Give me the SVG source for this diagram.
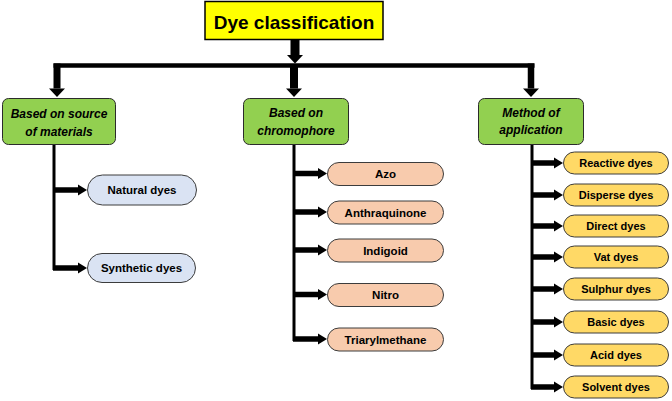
<svg xmlns="http://www.w3.org/2000/svg" width="672" height="401" viewBox="0 0 672 401">
<style>
.title{fill:#ffff00;stroke:#000;stroke-width:1.5}
.cat{fill:#92d050;stroke:#2b2b2b;stroke-width:1}
.pb{fill:#dae3f3;stroke:#3c3c3c;stroke-width:1}
.pp{fill:#f8cbad;stroke:#3c3c3c;stroke-width:1}
.py{fill:#ffd966;stroke:#3c3c3c;stroke-width:1}
text{font-family:"Liberation Sans",Arial,sans-serif;font-weight:bold;fill:#000;text-anchor:middle}
.tt{font-size:19px}
.ct{font-size:12px;font-style:italic}
.pt{font-size:11.5px}
.ry{font-size:11px}
.ln{stroke:#000;fill:none}
</style>
<defs>
<marker id="hv" markerUnits="userSpaceOnUse" orient="auto" refX="0" refY="0" markerWidth="10" markerHeight="18" overflow="visible"><path d="M0,-8 L8.5,0 L0,8 Z" fill="#000"/></marker>
<marker id="hh" markerUnits="userSpaceOnUse" orient="auto" refX="0" refY="0" markerWidth="10" markerHeight="12" overflow="visible"><path d="M0,-5.5 L9,0 L0,5.5 Z" fill="#000"/></marker>
</defs>
<g id="connectors">
<line class="ln" x1="295" y1="39" x2="295" y2="55" stroke-width="9" marker-end="url(#hv)"/>
<line class="ln" x1="53.5" y1="65.5" x2="534.5" y2="65.5" stroke-width="4.5"/>
<line class="ln" x1="57" y1="63.5" x2="57" y2="88.5" stroke-width="7" marker-end="url(#hv)"/>
<line class="ln" x1="294" y1="67" x2="294" y2="88.5" stroke-width="8" marker-end="url(#hv)"/>
<line class="ln" x1="531" y1="63.5" x2="531" y2="88.5" stroke-width="6.5" marker-end="url(#hv)"/>
<line class="ln" x1="54" y1="145" x2="54" y2="270" stroke-width="3"/>
<line class="ln" x1="53" y1="190" x2="78" y2="190" stroke-width="5.5" marker-end="url(#hh)"/>
<line class="ln" x1="53" y1="268" x2="78" y2="268" stroke-width="5.5" marker-end="url(#hh)"/>
<line class="ln" x1="294" y1="144" x2="294" y2="341" stroke-width="3"/>
<line class="ln" x1="293" y1="173.5" x2="318" y2="173.5" stroke-width="5.5" marker-end="url(#hh)"/>
<line class="ln" x1="293" y1="212" x2="318" y2="212" stroke-width="5.5" marker-end="url(#hh)"/>
<line class="ln" x1="293" y1="250" x2="318" y2="250" stroke-width="5.5" marker-end="url(#hh)"/>
<line class="ln" x1="293" y1="294.5" x2="318" y2="294.5" stroke-width="5.5" marker-end="url(#hh)"/>
<line class="ln" x1="293" y1="339" x2="318" y2="339" stroke-width="5.5" marker-end="url(#hh)"/>
<line class="ln" x1="532" y1="144" x2="532" y2="389" stroke-width="3"/>
<line class="ln" x1="531" y1="163" x2="554" y2="163" stroke-width="5.5" marker-end="url(#hh)"/>
<line class="ln" x1="531" y1="195" x2="554" y2="195" stroke-width="5.5" marker-end="url(#hh)"/>
<line class="ln" x1="531" y1="226" x2="554" y2="226" stroke-width="5.5" marker-end="url(#hh)"/>
<line class="ln" x1="531" y1="257" x2="554" y2="257" stroke-width="5.5" marker-end="url(#hh)"/>
<line class="ln" x1="531" y1="289" x2="554" y2="289" stroke-width="5.5" marker-end="url(#hh)"/>
<line class="ln" x1="531" y1="322" x2="554" y2="322" stroke-width="5.5" marker-end="url(#hh)"/>
<line class="ln" x1="531" y1="355" x2="554" y2="355" stroke-width="5.5" marker-end="url(#hh)"/>
<line class="ln" x1="531" y1="387" x2="554" y2="387" stroke-width="5.5" marker-end="url(#hh)"/>
</g>
<g id="title"><rect class="title" x="205" y="1.5" width="178" height="38"/><text class="tt" x="294" y="29">Dye classification</text></g>
<g id="source"><rect class="cat" x="2.5" y="98.5" width="113" height="46" rx="6"/><text class="ct" x="59" y="117.5">Based on source</text><text class="ct" x="59" y="135.5">of materials</text></g>
<g id="chromophore"><rect class="cat" x="243.5" y="98.5" width="105" height="46" rx="6"/><text class="ct" x="296" y="117">Based on</text><text class="ct" x="296" y="134.5">chromophore</text></g>
<g id="method"><rect class="cat" x="478.5" y="98.5" width="105" height="46" rx="6"/><text class="ct" x="531" y="116.5">Method of</text><text class="ct" x="531" y="133.5">application</text></g>
<g id="natural"><rect class="pb" x="87.5" y="175" width="109" height="30" rx="15"/><text class="pt" x="142" y="194">Natural dyes</text></g>
<g id="synthetic"><rect class="pb" x="87.5" y="253.5" width="108" height="29" rx="14.5"/><text class="pt" x="141.5" y="272">Synthetic dyes</text></g>
<g id="azo"><rect class="pp" x="327.5" y="162.5" width="116" height="23" rx="11.5"/><text class="pt" x="385.5" y="178">Azo</text></g>
<g id="anthraquinone"><rect class="pp" x="327.5" y="201" width="116" height="23" rx="11.5"/><text class="pt" x="385.5" y="216.5">Anthraquinone</text></g>
<g id="indigoid"><rect class="pp" x="327.5" y="239" width="116" height="23" rx="11.5"/><text class="pt" x="385.5" y="254.5">Indigoid</text></g>
<g id="nitro"><rect class="pp" x="327.5" y="283.5" width="116" height="23" rx="11.5"/><text class="pt" x="385.5" y="299">Nitro</text></g>
<g id="triarylmethane"><rect class="pp" x="327.5" y="328" width="116" height="23" rx="11.5"/><text class="pt" x="385.5" y="343.5">Triarylmethane</text></g>
<g id="reactive"><rect class="py" x="563.5" y="152" width="105" height="22" rx="11"/><text class="ry" x="616" y="167">Reactive dyes</text></g>
<g id="disperse"><rect class="py" x="563.5" y="184" width="105" height="22" rx="11"/><text class="ry" x="616" y="199">Disperse dyes</text></g>
<g id="direct"><rect class="py" x="563.5" y="215" width="105" height="22" rx="11"/><text class="ry" x="616" y="230">Direct dyes</text></g>
<g id="vat"><rect class="py" x="563.5" y="246" width="105" height="22" rx="11"/><text class="ry" x="616" y="261">Vat dyes</text></g>
<g id="sulphur"><rect class="py" x="563.5" y="278" width="105" height="22" rx="11"/><text class="ry" x="616" y="293">Sulphur dyes</text></g>
<g id="basic"><rect class="py" x="563.5" y="311" width="105" height="22" rx="11"/><text class="ry" x="616" y="326">Basic dyes</text></g>
<g id="acid"><rect class="py" x="563.5" y="344" width="105" height="22" rx="11"/><text class="ry" x="616" y="359">Acid dyes</text></g>
<g id="solvent"><rect class="py" x="563.5" y="376" width="105" height="22" rx="11"/><text class="ry" x="616" y="391">Solvent dyes</text></g>
</svg>
